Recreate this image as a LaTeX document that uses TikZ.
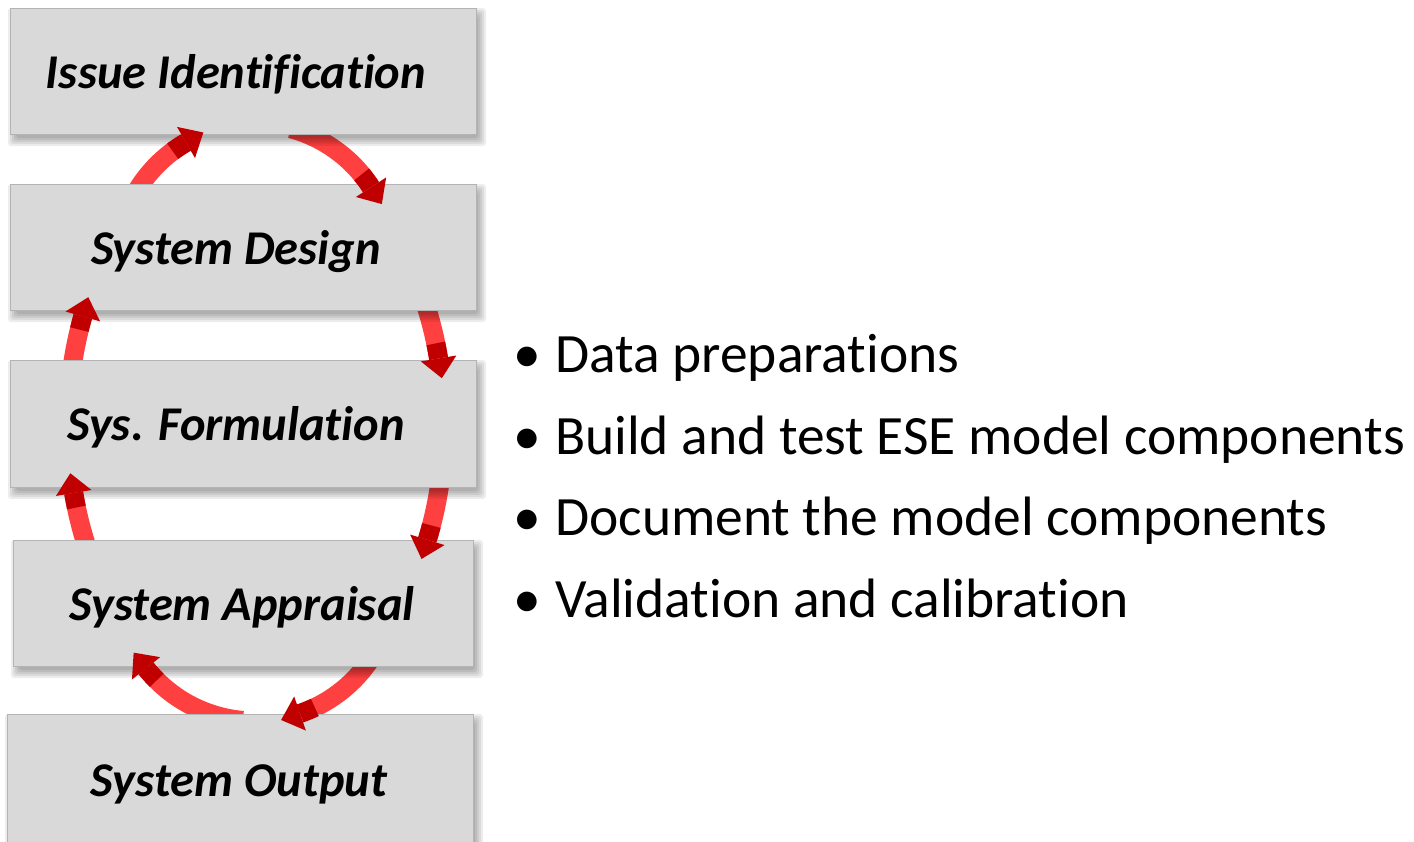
\documentclass[tikz,border=0pt]{standalone}
\usepackage{fontspec}
\setmainfont{Carlito}[Ligatures={NoCommon}]
\usetikzlibrary{calc}
\pgfdeclarelayer{bg}
\pgfsetlayers{bg,main}
\definecolor{lightred}{RGB}{255,64,64}
\definecolor{darkred}{RGB}{192,0,0}
\definecolor{boxfill}{RGB}{217,217,217}
\definecolor{boxline}{RGB}{180,180,180}
\tikzset{
  boxst/.style={draw=boxline, line width=1pt, fill=boxfill, inner sep=0pt,
    minimum height=126pt, text height=34pt, text depth=0pt,
    font=\fontsize{48.5}{50}\selectfont\bfseries\itshape},
  bulst/.style={anchor=base west, inner sep=0pt, font=\fontsize{55.5}{60}\selectfont},
  shaftst/.style={draw=lightred, line width=19pt, line cap=butt},
  darkst/.style={draw=darkred, line width=19pt, line cap=butt},
  headst/.style={fill=darkred}
}
% shaft: center coordinate, a, b, t0, t1
\newcommand\arrshaft[5]{%
  \draw[shaftst] ($(#1)+({#2*cos(#4)},{#3*sin(#4)})$) arc[start angle=#4,end angle=#5,x radius=#2pt,y radius=#3pt];}
% head: center coordinate, a, b, tdark, tbase
\newcommand\arrhead[5]{%
  \draw[darkst] ($(#1)+({#2*cos(#4)},{#3*sin(#4)})$) arc[start angle=#4,end angle=#5,x radius=#2pt,y radius=#3pt];
  \pgfmathsetmacro\hdir{atan2(-#3*cos(#5),#2*sin(#5))}
  \coordinate (hb) at ($(#1)+({#2*cos(#5)},{#3*sin(#5)})$);
  \fill[headst] ($(hb)+(\hdir+90:18pt)$) -- ($(hb)+(\hdir:20pt)$) -- ($(hb)+(\hdir-90:18pt)$) -- cycle;}
% blurred shadow: x1 y1 x2 y2 (pixel, y down)
\newcommand\boxshadow[4]{%
  \foreach \k in {-2,0,2,4,6}{
    \fill[black, fill opacity=0.07, rounded corners=3pt] ({#1+4-\k},{-(#2+6)+\k}) rectangle ({#3+4+\k},{-(#4+6)-\k});
  }}
\begin{document}
\begin{tikzpicture}[x=1pt,y=1pt]
\useasboundingbox (0,-841) rectangle (1414,0);
\coordinate (ctop) at (255,-262);
\coordinate (cmid) at (256,-425);
\coordinate (cbot) at (255,-582);
\begin{pgfonlayer}{bg}
  \fill[white] (0,-841) rectangle (1414,0);
  \arrshaft{ctop}{138}{138}{150}{120}
  \arrshaft{ctop}{138}{138}{75}{32.8}
  \arrshaft{cmid}{188}{279}{172}{157.1}
  \arrshaft{cmid}{188}{279}{28}{13.8}
  \arrshaft{cmid}{188}{279}{210}{194.1}
  \arrshaft{cmid}{188}{279}{-8}{-24.3}
  \arrshaft{cbot}{139}{139}{265}{218.4}
  \arrshaft{cbot}{139}{139}{-30}{-71.1}
\end{pgfonlayer}
% shadows
\boxshadow{10}{8}{476}{134}
\boxshadow{10}{184}{476}{310}
\boxshadow{10}{360}{476}{487}
\boxshadow{13}{540}{473}{666}
\boxshadow{7}{714}{473}{846}
% boxes
\node[boxst, minimum width=466pt] (b1) at (243,-71) {Issue Identification\hspace*{14pt}};
\node[boxst, minimum width=466pt] (b2) at (243,-247) {System Design\hspace*{14pt}};
\node[boxst, minimum width=466pt, minimum height=127pt] (b3) at (243,-423.5) {Sys. Formulation\hspace*{14pt}};
\node[boxst, minimum width=460pt] (b4) at (243,-603) {System Appraisal\hspace*{2pt}};
\node[boxst, minimum width=466pt, minimum height=132pt, text height=0pt] (b5) at (240,-780) {};
\node[font=\fontsize{48.5}{50}\selectfont\bfseries\itshape, anchor=base, inner sep=0pt] (b5t) at (239,-796) {System Output};
% arrow heads
\arrhead{ctop}{138}{138}{126.6}{120}
\arrhead{ctop}{138}{138}{39.4}{32.8}
\arrhead{cmid}{188}{279}{160}{157.1}
\arrhead{cmid}{188}{279}{17}{13.8}
\arrhead{cmid}{188}{279}{197.2}{194.1}
\arrhead{cmid}{188}{279}{-21.1}{-24.3}
\arrhead{cbot}{139}{139}{225}{218.4}
\arrhead{cbot}{139}{139}{-64.5}{-71.1}
% bullets
\node[bulst] (t1) at (555,-372) {\llap{\textbullet\hspace{14pt}}Data preparations};
\node[bulst] (t2) at (555,-454) {\llap{\textbullet\hspace{14pt}}Build and test ESE model components};
\node[bulst] (t3) at (555,-535) {\llap{\textbullet\hspace{14pt}}Document the model components};
\node[bulst] (t4) at (555,-617) {\llap{\textbullet\hspace{14pt}}Validation and calibration};
\end{tikzpicture}
\end{document}
